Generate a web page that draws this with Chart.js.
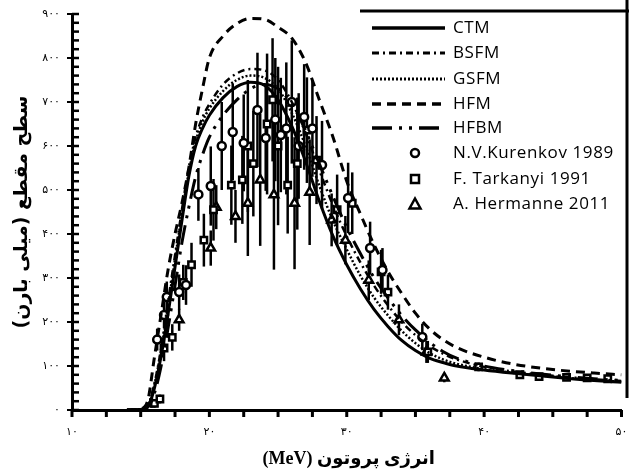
<!DOCTYPE html>
<html>
<head>
<meta charset="utf-8">
<script src="https://cdn.jsdelivr.net/npm/chart.js@4.4.1/dist/chart.umd.min.js"></script>
<style>
html,body{margin:0;padding:0;background:#fff;}
canvas{display:block;}
</style>
</head>
<body>
<canvas id="c" width="629" height="473"></canvas>
<script>
// ---- Model curves (energy grid in MeV, cross section in mb) ----
const energyModel = [14,15,15.5,16,16.5,17,17.5,18,18.5,19,19.5,20,21,22,23,24,25,26,27,28,29,30,31,32,33,34,35,36,37,38,40,42,45,48,50];
const ctm  = [0,1,6,50,125,220,325,430,530,600,640,670,710,735,745,738,705,645,565,475,395,330,275,228,190,158,135,118,108,100,91,84,75,67,63];
const bsfm = [0,2,9,60,142,248,352,455,550,620,665,695,740,765,775,772,750,700,630,545,465,395,335,282,238,200,170,146,128,115,98,88,78,70,66];
const gsfm = [0,2,9,58,138,238,343,445,540,610,655,685,725,750,760,755,730,675,600,510,430,365,305,255,215,180,152,130,115,105,93,85,76,68,64];
const hfm  = [0,3,20,120,220,320,400,470,550,650,730,800,850,878,890,888,870,845,790,705,620,520,445,375,315,265,220,185,160,142,120,105,92,84,80];
const hfbm = [0,1,5,38,102,188,283,380,460,530,580,620,670,705,730,740,730,695,635,560,485,415,355,300,255,215,182,155,133,118,100,90,79,71,67];

// ---- Experimental data ----
const kurE   = [16.2,16.7,16.9,17.8,18.3,19.2,20.1,20.9,21.7,22.5,23.5,24.1,24.8,25.2,25.6,26.0,26.5,26.9,27.5,28.2,30.1,31.7,32.6,35.5];
const kurS   = [160,216,257,268,284,490,509,600,632,607,682,618,660,625,640,700,600,666,640,557,482,368,318,166];
const kurErr = [25,30,35,40,45,60,90,100,110,110,130,120,140,130,150,140,120,120,110,100,80,60,50,30];

const tarE   = [16.0,16.4,16.7,17.3,18.1,18.7,19.6,20.3,21.6,22.4,22.8,23.2,24.2,24.6,25.0,25.7,26.4,27.1,27.8,29.3,30.4,32.5,33.0,35.9,39.6,42.6,44.0,46.0,47.5,49.0];
const tarS   = [15,25,141,165,290,330,386,455,511,523,600,560,650,705,600,511,560,636,568,455,470,314,268,132,98,80,76,74,73,71];
const tarErr = [10,10,30,30,40,50,60,70,90,100,150,120,160,140,180,110,150,120,100,80,70,50,40,25,10,8,6,6,6,6];

const herE   = [15.8,17.8,20.1,20.5,21.9,22.8,23.7,24.7,26.2,27.3,28.9,29.9,31.6,33.8,35.8,37.1];
const herS   = [15,205,368,461,440,470,523,489,470,495,432,386,295,205,132,73];
const herErr = [10,25,40,50,60,120,150,170,150,120,60,55,45,35,25,10];

// ---- Axis ticks ----
const xMajorTicks = [10,20,30,40,50];
const xTickLabels = ['۱۰','۲۰','۳۰','۴۰','۵۰'];
const yMajorTicks = [0,100,200,300,400,500,600,700,800,900];
const yTickLabels = ['۰','۱۰۰','۲۰۰','۳۰۰','۴۰۰','۵۰۰','۶۰۰','۷۰۰','۸۰۰','۹۰۰'];
const xMinorStep = 2.5;
const yMinorStep = 20;

const xTitle = 'انرژی پروتون (MeV)';
const yTitle = 'سطح مقطع (میلی بارن)';

const pts = (xs, ys, es) => xs.map((x, i) => ({x, y: ys[i], e: es ? es[i] : 0}));

const modelDs = (label, ys, dash, width) => ({
  label, data: pts(energyModel, ys), showLine: true, pointRadius: 0,
  borderColor: '#000', borderWidth: width, borderDash: dash,
  cubicInterpolationMode: 'monotone', fill: false, order: 1
});
const expDs = (label, xs, ys, es, style, r) => ({
  label, data: pts(xs, ys, es), showLine: false, pointStyle: style,
  pointRadius: r, borderColor: '#000', borderWidth: 2.5, backgroundColor: '#fff',
  errorBars: true, order: 2
});

const datasets = [
  modelDs('CTM', ctm, [], 3),
  modelDs('BSFM', bsfm, [7,4,2,4], 2.5),
  modelDs('GSFM', gsfm, [2,2], 2.5),
  modelDs('HFM', hfm, [9,6], 3),
  modelDs('HFBM', hfbm, [20,7,3,7,3,7], 3),
  expDs('N.V.Kurenkov 1989', kurE, kurS, kurErr, 'circle', 4),
  expDs('F. Tarkanyi 1991', tarE, tarS, tarErr, 'rect', 4.5),
  expDs('A. Hermanne 2011', herE, herS, herErr, 'triangle', 5)
];

const errorBarPlugin = {
  id: 'errorBars',
  beforeDatasetsDraw(chart) {
    const {ctx, scales: {x, y}} = chart;
    ctx.save();
    ctx.strokeStyle = '#000';
    ctx.lineWidth = 2.5;
    chart.data.datasets.forEach(ds => {
      if (!ds.errorBars) return;
      ds.data.forEach(p => {
        const px = x.getPixelForValue(p.x);
        const y1 = y.getPixelForValue(p.y - p.e);
        const y2 = y.getPixelForValue(p.y + p.e);
        ctx.beginPath(); ctx.moveTo(px, y1); ctx.lineTo(px, y2); ctx.stroke();
      });
    });
    ctx.restore();
  }
};

const axisPlugin = {
  id: 'axisDecor',
  afterDraw(chart) {
    const {ctx, scales: {x, y}, chartArea: ca} = chart;
    ctx.save();
    ctx.strokeStyle = '#000';
    ctx.fillStyle = '#000';
    ctx.lineWidth = 3;
    // x ticks (below axis)
    for (let v = x.min; v <= x.max + 1e-6; v += xMinorStep) {
      const px = x.getPixelForValue(v);
      ctx.beginPath(); ctx.moveTo(px, ca.bottom); ctx.lineTo(px, ca.bottom + 7); ctx.stroke();
    }
    // y ticks (inside plot)
    ctx.lineWidth = 2.5;
    for (let v = y.min; v <= y.max + 1e-6; v += yMinorStep) {
      const py = y.getPixelForValue(v);
      ctx.beginPath(); ctx.moveTo(ca.left, py); ctx.lineTo(ca.left + 7, py); ctx.stroke();
    }
    ctx.lineWidth = 2;
    yMajorTicks.forEach(v => {
      const py = y.getPixelForValue(v);
      ctx.beginPath(); ctx.moveTo(ca.left - 5, py); ctx.lineTo(ca.left, py); ctx.stroke();
    });
    // labels
    ctx.font = '11px "DejaVu Sans"';
    ctx.textAlign = 'right'; ctx.textBaseline = 'middle';
    yMajorTicks.forEach((v, i) => {
      ctx.fillText(yTickLabels[i], ca.left - 12, y.getPixelForValue(v));
    });
    ctx.textAlign = 'center'; ctx.textBaseline = 'top';
    xMajorTicks.forEach((v, i) => {
      ctx.fillText(xTickLabels[i], x.getPixelForValue(v), ca.bottom + 17);
    });
    // axis titles
    ctx.direction = 'rtl';
    ctx.font = 'bold 18px "Liberation Serif", "DejaVu Sans"';
    ctx.textAlign = 'center'; ctx.textBaseline = 'middle';
    ctx.fillText(xTitle, (ca.left + ca.right) / 2 + 2, 459);
    ctx.save();
    ctx.translate(22, 212);
    ctx.rotate(-Math.PI / 2);
    ctx.font = 'bold 19px "DejaVu Sans"';
    ctx.fillText(yTitle, 0, 0);
    ctx.restore();
    ctx.restore();
  }
};

const legendPlugin = {
  id: 'customLegend',
  afterDraw(chart) {
    const {ctx} = chart;
    ctx.save();
    const x0 = 372, x1 = 445, tx = 453;
    const rows = [28, 53, 79, 104, 128, 153, 179, 204];
    chart.data.datasets.forEach((ds, i) => {
      const yy = rows[i];
      ctx.strokeStyle = '#000';
      if (!ds.errorBars) {
        ctx.lineWidth = ds.borderWidth + 0.5;
        ctx.setLineDash(ds.borderDash);
        ctx.beginPath(); ctx.moveTo(x0, yy); ctx.lineTo(x1, yy); ctx.stroke();
        ctx.setLineDash([]);
      } else {
        ctx.fillStyle = '#fff';
        ctx.lineWidth = 2.5;
        ctx.beginPath();
        if (ds.pointStyle === 'circle') ctx.arc(415, yy, ds.pointRadius, 0, Math.PI * 2);
        else if (ds.pointStyle === 'rect') ctx.rect(415 - 4, yy - 4, 8, 8);
        else { ctx.moveTo(415, yy - 5.5); ctx.lineTo(420.5, yy + 4.5); ctx.lineTo(409.5, yy + 4.5); ctx.closePath(); }
        ctx.fill(); ctx.stroke();
      }
      ctx.fillStyle = '#000';
      ctx.font = '17px "Open Sans"';
      ctx.letterSpacing = '0.6px';
      ctx.textAlign = 'left'; ctx.textBaseline = 'middle';
      ctx.fillText(ds.label, tx, yy);
    });
    // frame at top-right
    ctx.lineWidth = 3;
    ctx.beginPath(); ctx.moveTo(627, 0); ctx.lineTo(627, 398); ctx.stroke();
    ctx.beginPath(); ctx.moveTo(360, 11); ctx.lineTo(629, 11); ctx.stroke();
    ctx.restore();
  }
};

new Chart(document.getElementById('c'), {
  type: 'scatter',
  data: {datasets},
  options: {
    responsive: false,
    animation: false,
    layout: {padding: {left: 72, right: 2, top: 14, bottom: 63}},
    plugins: {legend: {display: false}, tooltip: {enabled: false}, title: {display: false}},
    scales: {
      x: {type: 'linear', min: 10, max: 50,
          ticks: {display: false, stepSize: xMinorStep},
          grid: {display: false, drawTicks: false},
          border: {display: true, color: '#000', width: 3}},
      y: {type: 'linear', min: 0, max: 900,
          ticks: {display: false, stepSize: yMinorStep},
          grid: {display: false, drawTicks: false},
          border: {display: true, color: '#000', width: 3}}
    }
  },
  plugins: [errorBarPlugin, axisPlugin, legendPlugin]
});
</script>
</body>
</html>
